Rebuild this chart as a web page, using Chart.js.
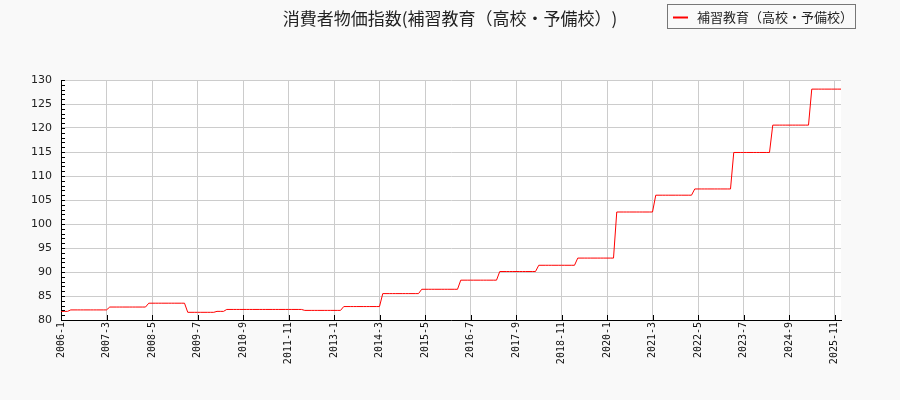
<!DOCTYPE html>
<html>
<head>
<meta charset="utf-8">
<script src="https://cdn.jsdelivr.net/npm/chart.js@4.4.1/dist/chart.umd.min.js"></script>
<style>
  html, body { margin: 0; padding: 0; background: #f9f9f9; }
  #chart-container { width: 900px; height: 400px; }
</style>
</head>
<body>
<div id="chart-container"><canvas id="mycanvas" width="900" height="400"></canvas></div>
<script>
var chartTitle = '消費者物価指数(補習教育（高校・予備校）)';
var seriesName = '補習教育（高校・予備校）';
var startYear = 2006;
var labelEvery = 14; // a tick label every 14 months

// monthly index values, one row per year (Jan..Dec)
var values = [
    81.8, 81.8, 81.8, 82.1, 82.1, 82.1, 82.1, 82.1, 82.1, 82.1, 82.1, 82.1,          // 2006
    82.1, 82.1, 82.1, 82.7, 82.7, 82.7, 82.7, 82.7, 82.7, 82.7, 82.7, 82.7,          // 2007
    82.7, 82.7, 82.7, 83.5, 83.5, 83.5, 83.5, 83.5, 83.5, 83.5, 83.5, 83.5,          // 2008
    83.5, 83.5, 83.5, 81.6, 81.6, 81.6, 81.6, 81.6, 81.6, 81.6, 81.6, 81.6,          // 2009
    81.8, 81.8, 81.8, 82.2, 82.2, 82.2, 82.2, 82.2, 82.2, 82.2, 82.2, 82.2,          // 2010
    82.2, 82.2, 82.2, 82.2, 82.2, 82.2, 82.2, 82.2, 82.2, 82.2, 82.2, 82.2,          // 2011
    82.2, 82.2, 82.2, 82.0, 82.0, 82.0, 82.0, 82.0, 82.0, 82.0, 82.0, 82.0,          // 2012
    82.0, 82.0, 82.0, 82.8, 82.8, 82.8, 82.8, 82.8, 82.8, 82.8, 82.8, 82.8,          // 2013
    82.8, 82.8, 82.8, 85.5, 85.5, 85.5, 85.5, 85.5, 85.5, 85.5, 85.5, 85.5,          // 2014
    85.5, 85.5, 85.5, 86.4, 86.4, 86.4, 86.4, 86.4, 86.4, 86.4, 86.4, 86.4,          // 2015
    86.4, 86.4, 86.4, 88.3, 88.3, 88.3, 88.3, 88.3, 88.3, 88.3, 88.3, 88.3,          // 2016
    88.3, 88.3, 88.3, 90.1, 90.1, 90.1, 90.1, 90.1, 90.1, 90.1, 90.1, 90.1,          // 2017
    90.1, 90.1, 90.1, 91.4, 91.4, 91.4, 91.4, 91.4, 91.4, 91.4, 91.4, 91.4,          // 2018
    91.4, 91.4, 91.4, 92.9, 92.9, 92.9, 92.9, 92.9, 92.9, 92.9, 92.9, 92.9,          // 2019
    92.9, 92.9, 92.9, 102.5, 102.5, 102.5, 102.5, 102.5, 102.5, 102.5, 102.5, 102.5, // 2020
    102.5, 102.5, 102.5, 106.0, 106.0, 106.0, 106.0, 106.0, 106.0, 106.0, 106.0, 106.0, // 2021
    106.0, 106.0, 106.0, 107.3, 107.3, 107.3, 107.3, 107.3, 107.3, 107.3, 107.3, 107.3, // 2022
    107.3, 107.3, 107.3, 114.9, 114.9, 114.9, 114.9, 114.9, 114.9, 114.9, 114.9, 114.9, // 2023
    114.9, 114.9, 114.9, 120.6, 120.6, 120.6, 120.6, 120.6, 120.6, 120.6, 120.6, 120.6, // 2024
    120.6, 120.6, 120.6, 128.1, 128.1, 128.1, 128.1, 128.1, 128.1, 128.1, 128.1, 128.1, // 2025
    128.1                                                                             // 2026
];

var yMin = 80;
var yMax = 130;
var yStep = 5;

// month labels "2006-1", "2006-2", ...
var months = [];
for (var i = 0; i < values.length; i++) {
    months.push((startYear + Math.floor(i / 12)) + '-' + (i % 12 + 1));
}

var chartFont = "'DejaVu Sans', sans-serif";
var cjkFont = "'Noto Sans CJK JP', 'DejaVu Sans', sans-serif";

// white plot area on the grey page
var plotBackground = {
    id: 'plotBackground',
    beforeDraw: function(chart) {
        var ctx = chart.ctx, a = chart.chartArea;
        ctx.save();
        ctx.fillStyle = '#f9f9f9';
        ctx.fillRect(0, 0, chart.width, chart.height);
        ctx.fillStyle = '#ffffff';
        ctx.fillRect(a.left, a.top, a.right - a.left, a.bottom - a.top);
        ctx.restore();
    }
};

// inward tick marks, minor ticks on the y axis, title and boxed legend
var decorations = {
    id: 'decorations',
    afterDraw: function(chart) {
        var ctx = chart.ctx, a = chart.chartArea;
        var xs = chart.scales.x, ys = chart.scales.y;
        ctx.save();
        ctx.strokeStyle = '#000000';
        ctx.lineWidth = 1;
        ctx.beginPath();
        for (var v = yMin; v <= yMax; v++) {
            var py = Math.round(ys.getPixelForValue(v)) + 0.5;
            ctx.moveTo(a.left, py);
            ctx.lineTo(a.left + 4, py);
        }
        for (var k = 0; k < months.length; k += labelEvery) {
            var px = Math.round(xs.getPixelForValue(k)) + 0.5;
            ctx.moveTo(px, a.bottom);
            ctx.lineTo(px, a.bottom - 5);
        }
        ctx.stroke();

        // title
        ctx.fillStyle = '#222222';
        ctx.font = '17px ' + cjkFont;
        ctx.textAlign = 'center';
        ctx.textBaseline = 'middle';
        ctx.fillText(chartTitle, 450, 19);

        // legend
        ctx.fillStyle = '#f9f9f9';
        ctx.fillRect(667.5, 4.5, 188, 24);
        ctx.strokeStyle = '#777777';
        ctx.strokeRect(667.5, 4.5, 188, 24);
        ctx.strokeStyle = 'red';
        ctx.lineWidth = 2;
        ctx.beginPath();
        ctx.moveTo(673, 17.5);
        ctx.lineTo(688, 17.5);
        ctx.stroke();
        ctx.fillStyle = '#222222';
        ctx.font = '13px ' + cjkFont;
        ctx.textAlign = 'left';
        ctx.fillText(seriesName, 697, 17);
        ctx.restore();
    }
};

var ctx = document.getElementById('mycanvas');

var lineChart = new Chart(ctx, {
    type: 'line',
    data: {
        labels: months,
        datasets: [
            {
                label: seriesName,
                data: values,
                borderColor: 'red',
                borderWidth: 1,
                pointRadius: 0,
                tension: 0,
                fill: false
            }
        ]
    },
    options: {
        responsive: false,
        animation: false,
        devicePixelRatio: 1,
        layout: {
            padding: { left: 5, right: 59, top: 80, bottom: 0 }
        },
        plugins: {
            legend: { display: false },
            title: { display: false },
            tooltip: { enabled: false }
        },
        scales: {
            x: {
                type: 'category',
                offset: false,
                afterFit: function(scale) { scale.height = 80; },
                border: { display: true, color: '#000000', width: 1 },
                grid: { color: '#cccccc', drawTicks: false },
                ticks: {
                    autoSkip: false,
                    minRotation: 90,
                    maxRotation: 90,
                    padding: 2,
                    color: '#111111',
                    font: { family: "'DejaVu Sans Mono', monospace", size: 10 },
                    callback: function(val, index) {
                        return index % labelEvery === 0 ? months[index] : null;
                    }
                }
            },
            y: {
                min: yMin,
                max: yMax,
                afterFit: function(scale) { scale.width = 56; },
                border: { display: true, color: '#000000', width: 1 },
                grid: { color: '#cccccc', drawTicks: false },
                ticks: {
                    stepSize: yStep,
                    padding: 9,
                    color: '#222222',
                    font: { family: chartFont, size: 11 }
                }
            }
        }
    },
    plugins: [plotBackground, decorations]
});
</script>
</body>
</html>
